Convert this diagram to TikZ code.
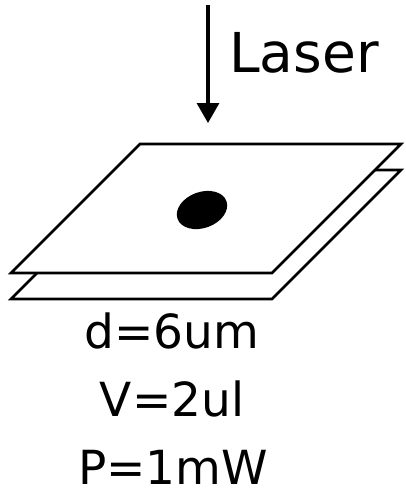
\documentclass[tikz,border=0pt]{standalone}
\usepackage{fontspec}
\setmainfont{DejaVu Sans}
\usetikzlibrary{arrows.meta,positioning}
\tikzset{
  plate/.style={draw=black, line width=2.6pt, fill=white, line join=miter},
  spot/.style={fill=black, draw=none},
  beam/.style={-{Triangle[length=20pt,width=22pt]}, draw=black, line width=3.2pt},
  lbl/.style={inner sep=0pt, font=\fontsize{55}{60}\selectfont},
  param/.style={inner sep=0pt, anchor=base, text depth=0pt, font=\fontsize{47}{52}\selectfont},
}

\begin{document}
\begin{tikzpicture}[x=1pt, y=-1pt]
  \useasboundingbox (0,0) rectangle (406,499);
  % two stacked plates, lower one first
  \draw[plate] (140,170) -- (401,170) -- (272,299) -- (11,299) -- cycle;
  \draw[plate] (140,144) -- (401,144) -- (272,273) -- (11,273) -- cycle;
  \fill[spot, rotate around={20:(202,210)}] (202,210) ellipse [x radius=26, y radius=18];
  % laser beam
  \coordinate (src) at (208,5);
  \coordinate (hit) at (208,123);
  \draw[beam] (src) -- (hit);
  \node[lbl, anchor=base west] (laser) at (229,72) {Laser};
  % parameters
  \node[param] (dia) at (172,348) {d=6um};
  \node[param] (vol) at (172,416) {V=2ul};
  \node[param] (pow) at (173,484) {P=1mW};
\end{tikzpicture}
\end{document}
